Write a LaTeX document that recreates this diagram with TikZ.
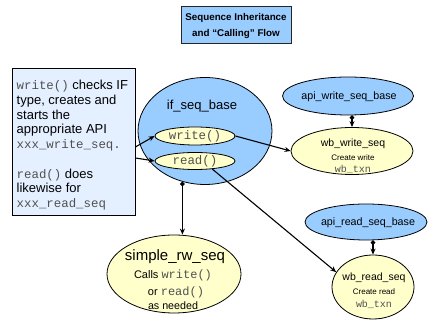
\documentclass[tikz,border=0pt]{standalone}
\usepackage{fontspec}
\setmainfont{Liberation Sans}
\setmonofont{Liberation Mono}
\usetikzlibrary{arrows.meta,shapes.geometric}
\definecolor{ifblue}{RGB}{153,204,255}
\definecolor{ifyel}{RGB}{255,255,204}
\definecolor{boxblue}{RGB}{228,240,255}
\definecolor{codegray}{RGB}{80,80,80}
\newcommand{\fsz}[2]{\fontsize{#1}{#2}\selectfont}
\newcommand{\codett}[2]{{\fontsize{#1}{#1}\selectfont\ttfamily\color{codegray}#2}}
\begin{document}
\begin{tikzpicture}[x=1pt,y=-1pt,
  blueell/.style={ellipse,draw=black,line width=0.8pt,fill=ifblue,inner sep=0pt},
  yelell/.style={ellipse,draw=black,line width=0.8pt,fill=ifyel,inner sep=0pt},
  txt/.style={inner sep=0pt,anchor=base},
  conn/.style={line width=1.1pt,-{Stealth[length=6pt,width=5pt]}},
  dotconn/.style={line width=1.1pt,{Circle[length=4.5pt]}-{Stealth[length=6pt,width=5pt]}}]
\useasboundingbox (0,0) rectangle (445,328);

% title
\node[draw=black!85,line width=0.9pt,fill=ifblue,minimum width=110pt,minimum height=37pt,inner sep=0pt] (title) at (236,24.5) {};
\node[txt] (title1) at (236,20.5) {\fsz{9.8}{11}\bfseries Sequence Inheritance};
\node[txt] (title2) at (236,36.5) {\fsz{9.8}{11}\bfseries and “Calling” Flow};

% left description box
\node[draw=black,line width=0.8pt,fill=boxblue,minimum width=123pt,minimum height=147pt,inner sep=0pt] (box) at (73.5,141.5) {};
\node[inner sep=0pt,anchor=north west,align=left,font=\fsz{13}{14.75}] (boxtxt) at (16.5,80)
{\codett{12.4}{write()} checks IF\\
type, creates and\\
starts the\\
appropriate API\\
\codett{12.4}{xxx\_write\_seq.}\\[14.75pt]
\codett{12.4}{read()} does\\
likewise for\\
\codett{12.4}{xxx\_read\_seq}};

% ellipses
\node[blueell,minimum width=134pt,minimum height=107pt] (ifb) at (205,131) {};
\node[txt] (ifbt) at (202,109.7) {\fsz{13}{13}if\_seq\_base};
\node[yelell,minimum width=80pt,minimum height=18pt] (wr) at (195,136) {};
\node[txt] (wrt) at (195,139.8) {\codett{12.4}{write()}};
\node[yelell,minimum width=80pt,minimum height=17pt] (rd) at (195,161) {};
\node[txt] (rdt) at (195,164.8) {\codett{12.4}{read()}};

\node[blueell,minimum width=131pt,minimum height=38pt] (aws) at (348,96) {};
\node[txt] (awst) at (349,99.9) {\fsz{10.7}{11}api\_write\_seq\_base};
\node[yelell,minimum width=122pt,minimum height=47pt] (wws) at (352,151) {};
\node[txt] (wwst1) at (353,146.6) {\fsz{10.5}{10}wb\_write\_seq};
\node[txt] (wwst2) at (353,160.9) {\fsz{8}{8}Create write};
\node[txt] (wwst3) at (353,173) {\codett{10}{wb\_txn}};

\node[blueell,minimum width=122pt,minimum height=36pt] (ars) at (366,222) {};
\node[txt] (arst) at (368,225.6) {\fsz{10.7}{11}api\_read\_seq\_base};
\node[yelell,minimum width=82pt,minimum height=64pt] (wrs) at (373,287) {};
\node[txt] (wrst1) at (374,280.6) {\fsz{10.5}{10}wb\_read\_seq};
\node[txt] (wrst2) at (374,295) {\fsz{8}{8}Create read};
\node[txt] (wrst3) at (374,308) {\codett{10}{wb\_txn}};

\node[yelell,minimum width=134pt,minimum height=78pt] (srw) at (174,274) {};
\node[txt] (srwt1) at (175,260.4) {\fsz{15}{15}simple\_rw\_seq};
\node[txt] (srwt2) at (173,279) {\fsz{11}{11}Calls \codett{12}{write()}};
\node[txt] (srwt3) at (176,296) {\fsz{11}{11}or \codett{12}{read()}};
\node[txt] (srwt4) at (173,310) {\fsz{10.7}{11}as needed};

% connectors
\coordinate (b1) at (box.east |- 0,147);
\coordinate (b2) at (box.east |- 0,158);
\draw[conn] (b1) -- (wr.west);
\draw[conn] (b2) -- (rd.west);
\draw[conn] (wr.east) -- (wws.west);
\draw[conn] (rd.-25) -- (wrs.158);
\draw[dotconn] (ifb.246) -- (ifb.246 |- srw.north);
\draw[dotconn] (wws.north |- aws.south) -- (wws.north);
\draw[dotconn] (wrs.north |- ars.south) -- (wrs.north);
\end{tikzpicture}
\end{document}
